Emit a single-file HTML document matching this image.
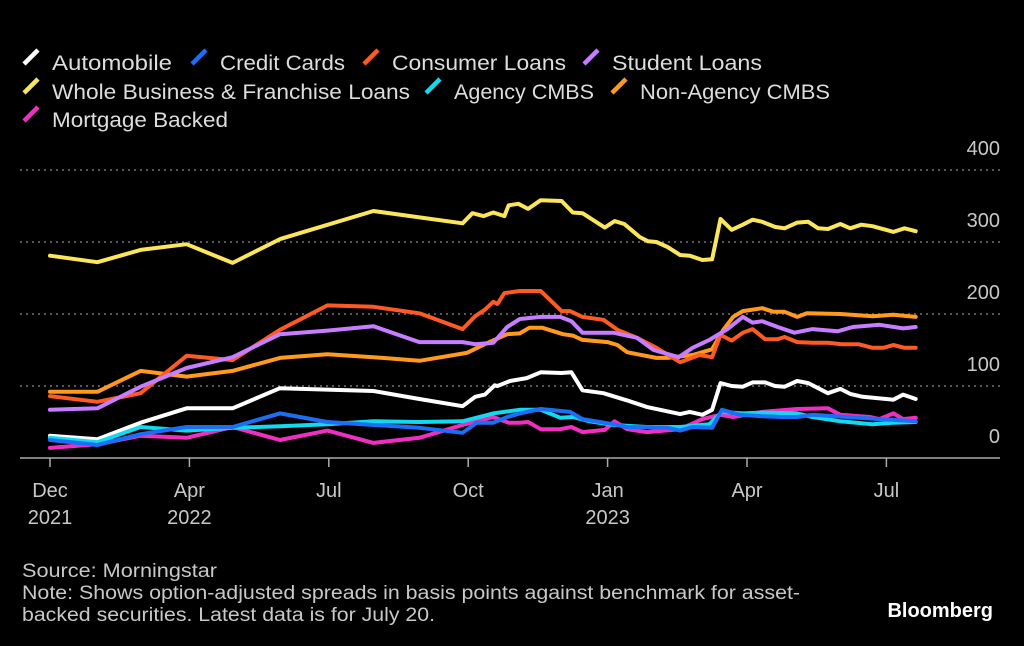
<!DOCTYPE html>
<html><head><meta charset="utf-8"><style>
body{margin:0;background:#000;width:1024px;height:646px;overflow:hidden;font-family:"Liberation Sans",sans-serif}
svg{position:absolute;left:0;top:0}
</style></head><body>
<svg width="1024" height="646">
<g id="legend"></g>
<g id="grid"></g>
<g id="xaxis"></g>
<g id="series"></g>
<g fill="#c8c8c8" font-size="19">
<text x="22" y="577" textLength="195" lengthAdjust="spacingAndGlyphs">Source: Morningstar</text>
<text x="22" y="599" textLength="778" lengthAdjust="spacingAndGlyphs">Note: Shows option-adjusted spreads in basis points against benchmark for asset-</text>
<text x="22" y="621" textLength="413" lengthAdjust="spacingAndGlyphs">backed securities. Latest data is for July 20.</text>
</g>
<text x="993" y="617" text-anchor="end" fill="#fff" font-size="20" font-weight="bold">Bloomberg</text>
</svg>
<script>
const yTicks=[0,100,200,300,400];
const xTickLabels=[["Dec","2021"],["Apr","2022"],["Jul",""],["Oct",""],["Jan","2023"],["Apr",""],["Jul",""]];
const seriesNames=["Automobile","Credit Cards","Consumer Loans","Student Loans","Whole Business & Franchise Loans","Agency CMBS","Non-Agency CMBS","Mortgage Backed"];
const seriesColors=["#ffffff","#1a6ff5","#ff5a22","#c77dff","#fbe65a","#12d8f0","#ff9a1f","#f02fc2"];
const auto=[[0,31],[.34,26],[.65,49],[.98,69],[1.31,69],[1.65,97],[2.32,93],[2.65,82],[2.96,72],[3.05,85],[3.12,88],[3.19,101],[3.21,100],[3.30,107],[3.42,111],[3.52,119],[3.67,118],[3.74,119],[3.82,94],[3.97,90],[4.14,80],[4.28,71],[4.52,61],[4.59,64],[4.68,60],[4.75,67],[4.81,104],[4.89,100],[4.97,99],[5.04,105],[5.13,105],[5.20,100],[5.27,99],[5.36,107],[5.44,104],[5.58,90],[5.67,96],[5.74,89],[5.83,85],[6.05,81],[6.12,88],[6.21,82]];
const credit=[[0,25],[.34,18],[.65,33],[.98,43],[1.31,43],[1.65,62],[1.99,50],[2.65,42],[2.96,35],[3.06,49],[3.18,49],[3.28,57],[3.37,62],[3.52,68],[3.73,64],[3.82,54],[4.04,47],[4.14,43],[4.43,42],[4.52,38],[4.61,43],[4.75,42],[4.82,67],[4.95,60],[5.11,58],[5.24,57],[5.36,57],[5.47,60],[5.72,57],[5.95,54],[6.21,51]];
const consumer=[[0,86],[.34,78],[.65,90],[.98,142],[1.31,136],[1.65,178],[1.99,212],[2.32,210],[2.65,201],[2.96,179],[3.05,197],[3.12,206],[3.18,217],[3.21,214],[3.26,229],[3.37,232],[3.52,232],[3.67,204],[3.73,204],[3.82,196],[3.97,192],[4.07,178],[4.21,167],[4.35,153],[4.52,133],[4.66,143],[4.75,140],[4.81,171],[4.89,163],[4.97,174],[5.04,179],[5.13,165],[5.22,165],[5.27,168],[5.36,161],[5.47,160],[5.58,160],[5.68,158],[5.80,158],[5.90,153],[5.98,153],[6.05,157],[6.13,153],[6.21,153]];
const student=[[0,67],[.34,69],[.65,99],[.98,125],[1.31,140],[1.65,172],[1.99,177],[2.32,183],[2.65,161],[2.96,161],[3.05,158],[3.18,160],[3.28,182],[3.37,193],[3.52,196],[3.66,196],[3.74,190],[3.82,174],[4.04,174],[4.21,167],[4.33,150],[4.51,140],[4.61,153],[4.73,164],[4.86,179],[4.97,196],[5.04,188],[5.11,190],[5.22,182],[5.34,174],[5.47,179],[5.65,176],[5.76,182],[5.95,185],[6.12,180],[6.21,182]];
const wholeBiz=[[0,281],[.34,272],[.65,289],[.98,297],[1.31,271],[1.65,304],[2.32,343],[2.96,326],[3.03,340],[3.11,336],[3.18,341],[3.26,336],[3.29,351],[3.36,353],[3.43,346],[3.52,358],[3.67,357],[3.75,341],[3.82,340],[3.98,320],[4.05,329],[4.12,325],[4.23,307],[4.29,301],[4.35,300],[4.43,293],[4.52,282],[4.59,281],[4.68,275],[4.75,276],[4.81,332],[4.89,317],[4.97,324],[5.04,331],[5.11,328],[5.20,321],[5.27,319],[5.36,327],[5.44,328],[5.51,319],[5.58,318],[5.67,325],[5.74,319],[5.82,324],[5.90,322],[6.05,314],[6.13,319],[6.21,315]];
const agency=[[0,28],[.34,22],[.65,43],[.98,38],[1.31,42],[1.65,44],[1.99,47],[2.32,51],[2.65,50],[2.96,51],[3.18,62],[3.37,67],[3.52,67],[3.66,56],[3.75,57],[3.87,51],[4.04,46],[4.28,43],[4.52,43],[4.73,47],[4.82,64],[4.97,62],[5.11,63],[5.36,62],[5.47,57],[5.67,51],[5.90,47],[6.05,49],[6.21,50]];
const nonAgency=[[0,92],[.34,92],[.65,121],[.98,113],[1.31,121],[1.65,139],[1.99,144],[2.32,140],[2.65,135],[2.99,146],[3.13,159],[3.28,172],[3.37,173],[3.44,181],[3.53,181],[3.68,172],[3.75,170],[3.82,164],[4.00,161],[4.07,157],[4.14,147],[4.35,139],[4.43,139],[4.61,143],[4.75,151],[4.83,178],[4.90,196],[4.97,204],[5.11,208],[5.19,203],[5.27,203],[5.36,196],[5.43,201],[5.67,200],[5.90,197],[6.05,199],[6.21,196]];
const mortgage=[[0,14],[.34,19],[.65,31],[.98,28],[1.31,43],[1.65,25],[1.99,38],[2.32,21],[2.65,28],[2.96,46],[3.18,57],[3.29,49],[3.37,49],[3.43,50],[3.52,40],[3.66,40],[3.74,43],[3.82,36],[3.98,39],[4.05,51],[4.14,40],[4.28,36],[4.52,40],[4.68,54],[4.81,60],[4.90,57],[5.11,64],[5.36,68],[5.58,69],[5.67,60],[5.88,57],[5.95,54],[6.05,62],[6.12,54],[6.21,56]];
const allSeries=[auto,credit,consumer,student,wholeBiz,agency,nonAgency,mortgage];
const NS="http://www.w3.org/2000/svg";
const X0=20,X1=1000;
function xs(t){return 50+t*139.4;}
function ys(v){return 458-v*0.72;}
function mk(tag,attrs,parent){const e=document.createElementNS(NS,tag);for(const k in attrs)e.setAttribute(k,attrs[k]);parent.appendChild(e);return e;}
const grid=document.getElementById('grid');
yTicks.forEach(v=>{
 if(v>0){const l=mk('line',{x1:X0,x2:X1,y1:ys(v),y2:ys(v),stroke:'#777','stroke-width':1.5,'stroke-dasharray':'2,4'},grid);
 
 }
 const t=mk('text',{x:1000,y:ys(v)-15,'text-anchor':'end',fill:'#c8c8c8','font-size':20},grid);
 t.textContent=v;
 
 
});
const xa=document.getElementById('xaxis');
const ax=mk('line',{x1:X0,x2:X1,y1:458,y2:458,stroke:'#aaa','stroke-width':1.5},xa);


xTickLabels.forEach((lb,i)=>{
 const x=xs(i);
 const tk=mk('line',{x1:x,x2:x,y1:458,y2:467,stroke:'#aaa','stroke-width':1.5},xa);
 
 
 lb.forEach((s,j)=>{if(!s)return;
  const t=mk('text',{x:x,y:497+j*27,'text-anchor':'middle',fill:'#c8c8c8','font-size':20},xa);
  t.textContent=s;
  
  
 });
});
const sg=document.getElementById('series');
[4,6,2,3,0,7,5,1].forEach(i=>{
 const d=allSeries[i].map((p,k)=>(k?'L':'M')+xs(p[0]).toFixed(1)+','+ys(p[1]).toFixed(1)).join('');
 const p=mk('path',{d:d,fill:'none',stroke:seriesColors[i],'stroke-width':4,'stroke-linejoin':'round','stroke-linecap':'round'},sg);
 
 
});
const lg=document.getElementById('legend');
const legPos=[[22,63],[190,63],[362,63],[582,63],[22,92],[424,92],[610,92],[22,120]];
const legLen=[120,125,174,150,358,140,190,176];
seriesNames.forEach((n,i)=>{
 const [x,y]=legPos[i];
 const g=mk('g',{},lg);
 
 
 mk('line',{x1:x+2,y1:y+1,x2:x+16,y2:y-13,stroke:seriesColors[i],'stroke-width':4.5},g);
 const t=mk('text',{x:x+30,y:y+7,fill:'#ddd','font-size':21,textLength:legLen[i],lengthAdjust:'spacingAndGlyphs'},g);
 t.textContent=n;
});
</script>
</body></html>
